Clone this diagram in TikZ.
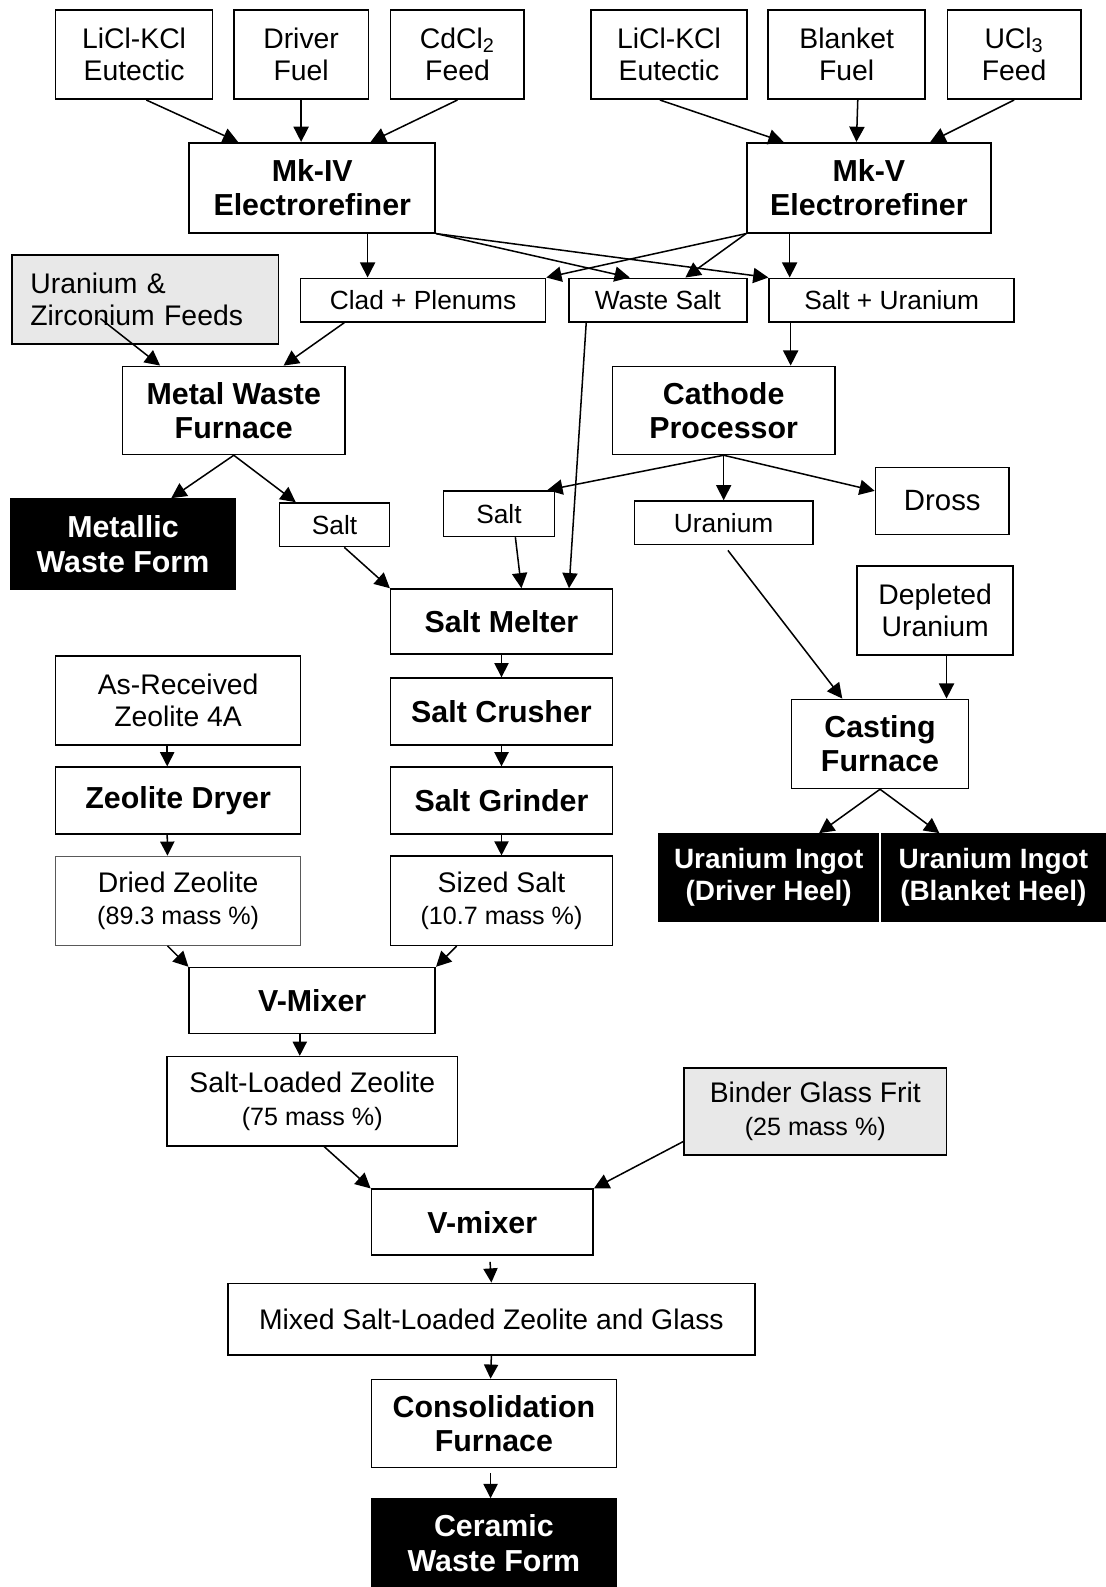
\documentclass[tikz,border=0pt]{standalone}
\usepackage{fontspec}
\setmainfont{Liberation Sans}
\usetikzlibrary{arrows.meta, calc}

\definecolor{feedgray}{RGB}{232,232,232}
\def\unitpx{0.5pt}
\newcommand{\masspct}[1]{{\fontsize{12.4}{14}\selectfont #1}}

\tikzset{
  box/.style={draw, line width=0.8pt, align=center, inner sep=0pt, font=\fontsize{14}{16}\selectfont},
  hd/.style={box, font=\fontsize{15}{17}\selectfont\bfseries},
  lbl/.style={box, font=\fontsize{13}{15}\selectfont},
  final/.style={hd, fill=black, text=white},
  boxsize/.style 2 args={minimum width=#1*\unitpx, minimum height=#2*\unitpx},
  flow/.style={-{Triangle[length=7.5pt,width=7.5pt]}, line width=0.75pt},
  tick/.style={-{Triangle[length=7pt,width=7pt]}, line width=0.75pt}
}

\begin{document}
\begin{tikzpicture}[x=0.5pt, y=-0.5pt]

    \useasboundingbox (0,0) rectangle (1092,1568);

    % --- Feeds ---
    \node[box, boxsize={155}{88}] (liclA) at (132.5,54) {LiCl-KCl\\Eutectic};
    \node[box, boxsize={133}{88}] (driver) at (297.5,54) {Driver\\Fuel};
    \node[box, boxsize={132}{88}] (cdcl) at (452,54) {CdCl\textsubscript{2}\\Feed};
    \node[box, boxsize={154}{88}] (liclB) at (661,54) {LiCl-KCl\\Eutectic};
    \node[box, boxsize={155}{88}] (blanket) at (836.5,54) {Blanket\\Fuel};
    \node[box, boxsize={132}{88}] (ucl) at (1002,54) {UCl\textsubscript{3}\\Feed};

    % --- Electrorefiners ---
    \node[hd, boxsize={243}{89}] (mkiv) at (308.5,185.5) {Mk-IV\\Electrorefiner};
    \node[hd, boxsize={241}{89}] (mkv) at (858.5,185.5) {Mk-V\\Electrorefiner};

    % --- Refiner products ---
    \node[box, fill=feedgray, minimum height=44pt, text width=113.5pt, inner xsep=9pt, align=left] (uzr) at (143.5,296) {Uranium \&\\Zirconium Feeds};
    \node[lbl, boxsize={242}{43}] (clad) at (418,296.5) {Clad + Plenums};
    \node[lbl, boxsize={176}{43}] (wsalt) at (650,296.5) {Waste Salt};
    \node[lbl, boxsize={242}{43}] (saltu) at (881,296.5) {Salt + Uranium};

    % --- Furnace / processor ---
    \node[hd, boxsize={220}{87}] (mwf) at (231,405.5) {Metal Waste\\Furnace};
    \node[hd, boxsize={220}{87}] (cath) at (715,405.5) {Cathode\\Processor};

    \node[final, boxsize={221}{89}] (mwform) at (121.5,537.5) {Metallic\\Waste Form};
    \node[lbl, boxsize={109}{43}] (saltA) at (330.5,518.5) {Salt};
    \node[lbl, boxsize={110}{45}] (saltB) at (493,507.5) {Salt};
    \node[lbl, boxsize={176}{43}] (uran) at (715,516.5) {Uranium};
    \node[box, boxsize={132}{66}, font=\fontsize{14.5}{17}\selectfont] (dross) at (931,495) {Dross};

    % --- Uranium casting ---
    \node[box, boxsize={154}{88}] (depl) at (924,603) {Depleted\\Uranium};
    \node[hd, boxsize={175}{88}] (cast) at (869.5,735) {Casting\\Furnace};
    \node[final, boxsize={217}{86}, font=\fontsize{13.8}{16}\selectfont\bfseries] (ingD) at (759.5,867) {Uranium Ingot\\(Driver Heel)};
    \node[final, boxsize={221}{86}, font=\fontsize{13.8}{16}\selectfont\bfseries] (ingB) at (981.5,867) {Uranium Ingot\\(Blanket Heel)};

    % --- Salt line ---
    \node[hd, boxsize={219}{64}] (melter) at (495.5,614) {Salt Melter};
    \node[hd, boxsize={219}{66}] (crush) at (495.5,703) {Salt Crusher};
    \node[hd, boxsize={219}{66}] (grind) at (495.5,791) {Salt Grinder};
    \node[box, boxsize={219}{88}] (sized) at (495.5,890) {Sized Salt\\\masspct{(10.7 mass \%)}};

    % --- Zeolite line ---
    \node[box, boxsize={242}{88}] (asrec) at (176,692) {As-Received\\Zeolite 4A};
    \node[hd, boxsize={242}{66}] (dryer) at (176,791) {Zeolite Dryer};
    \node[box, boxsize={242}{88}, line width=0.5pt, draw=gray!70!black] (dried) at (176,890) {Dried Zeolite\\\masspct{(89.3 mass \%)}};

    % --- Mixing and consolidation ---
    \node[hd, boxsize={243}{65}] (vmixA) at (308.5,988.5) {V-Mixer};
    \node[box, boxsize={287}{88}] (slz) at (308.5,1088) {Salt-Loaded Zeolite\\\masspct{(75 mass \%)}};
    \node[box, fill=feedgray, boxsize={259}{86}] (binder) at (805.5,1098) {Binder Glass Frit\\\masspct{(25 mass \%)}};
    \node[hd, boxsize={219}{65}] (vmixB) at (476.5,1207.5) {V-mixer};
    \node[box, boxsize={521}{71}] (mixed) at (485.5,1303.5) {Mixed Salt-Loaded Zeolite and Glass};
    \node[hd, boxsize={242}{87}] (consol) at (488,1406.5) {Consolidation\\Furnace};
    \node[final, boxsize={242}{87}] (ceramic) at (488,1524.5) {Ceramic\\Waste Form};

    % --- Refiner feeds ---
    \draw[flow] ($(liclA.south)+(12,0)$) -- ($(mkiv.north west)+(49,0)$);
    \draw[flow] (driver.south) -- (driver.south |- mkiv.north);
    \draw[flow] (cdcl.south) -- ($(mkiv.north west)+(180,0)$);
    \draw[flow] ($(liclB.south)+(-9,0)$) -- ($(mkv.north west)+(37,0)$);
    \draw[flow] ($(blanket.south)+(11,0)$) -- ($(mkv.north west)+(109,0)$);
    \draw[flow] (ucl.south) -- ($(mkv.north west)+(182,0)$);

    % --- Refiner outputs ---
    \draw[flow] ($(mkiv.south west)+(177,0)$) -- ($(clad.north west)+(67,0)$);
    \draw[flow] (mkiv.south east) -- ($(wsalt.north west)+(61,0)$);
    \draw[flow] (mkiv.south east) -- (saltu.north west);
    \draw[flow] (mkv.south west) -- (clad.north east);
    \draw[flow] (mkv.south west) -- ($(wsalt.north west)+(116,0)$);
    \draw[flow] ($(mkv.south west)+(43,0)$) -- ($(saltu.north west)+(21,0)$);

    % --- Into furnace / processor ---
    \draw[flow] ($(uzr.south west)+(88,-26)$) -- ($(mwf.north west)+(38,0)$);
    \draw[flow] ($(clad.south west)+(44,0)$) -- ($(mwf.north west)+(160,0)$);
    \draw[flow] ($(saltu.south west)+(22,0)$) -- ($(cath.north west)+(177,0)$);

    % --- Out of furnace / processor ---
    \draw[flow] (mwf.south) -- ($(mwform.north west)+(159,0)$);
    \draw[flow] (mwf.south) -- ($(saltA.north west)+(17,0)$);
    \draw[flow] (cath.south) -- ($(saltB.north east)+(-8,0)$);
    \draw[flow] (cath.south) -- (uran.north);
    \draw[flow] (cath.south) -- ($(dross.west)+(0,-10)$);

    % --- Salt to melter ---
    \draw[flow] ($(saltA.south west)+(65,0)$) -- (melter.north west);
    \draw[flow] ($(saltB.south west)+(72,0)$) -- ($(melter.north west)+(130,0)$);
    \draw[flow] ($(wsalt.south west)+(18,0)$) -- ($(melter.north west)+(177,0)$);

    % --- Casting ---
    \draw[flow] ($(uran.south west)+(93,5)$) -- ($(cast.north west)+(51,0)$);
    \draw[flow] ($(depl.south west)+(89,0)$) -- ($(cast.north west)+(154,0)$);
    \draw[flow] (cast.south) -- ($(ingD.north west)+(159,0)$);
    \draw[flow] (cast.south) -- ($(ingB.north west)+(58,0)$);

    % --- Salt and zeolite chains ---
    \draw[tick] (melter.south) -- (crush.north);
    \draw[tick] (crush.south) -- (grind.north);
    \draw[tick] (grind.south) -- (sized.north);
    \draw[tick] ($(asrec.south west)+(111,0)$) -- ($(dryer.north west)+(111,0)$);
    \draw[tick] ($(dryer.south west)+(111,0)$) -- ($(dried.north west)+(111,0)$);

    % --- Mixing ---
    \draw[flow] ($(dried.south west)+(111,0)$) -- (vmixA.north west);
    \draw[flow] ($(sized.south west)+(66,0)$) -- (vmixA.north east);
    \draw[tick] ($(vmixA.south west)+(110,0)$) -- ($(slz.north west)+(132,0)$);
    \draw[flow] ($(slz.south west)+(156,0)$) -- (vmixB.north west);
    \draw[flow] ($(binder.south west)+(0,-14)$) -- (vmixB.north east);
    \draw[tick] ($(vmixB.south west)+(118,6)$) -- (mixed.north);
    \draw[tick] (mixed.south) -- ($(consol.north west)+(118.5,0)$);
    \draw[tick] ($(consol.south west)+(118.5,5)$) -- ($(ceramic.north west)+(118.5,0)$);

\end{tikzpicture}
\end{document}
